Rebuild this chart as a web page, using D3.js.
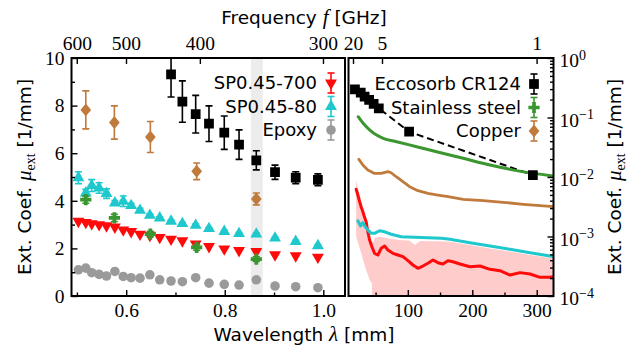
<!DOCTYPE html>
<html>
<head>
<meta charset="utf-8">
<script src="https://cdn.jsdelivr.net/npm/d3@7"></script>
<style>
  body { margin: 0; background: #fff; }
  svg text { font-family: "DejaVu Sans", sans-serif; fill: #000; }
  .tk text { font-family: "Liberation Serif", serif; font-size: 19.5px; }
  .tk line { stroke: #000; stroke-width: 1.4; }
</style>
</head>
<body>
<div id="chart"></div>
<script>
const C_MM_GHZ = 299.792458;

// ---- left panel: lambda [mm] vs mu_ext [1/mm]
const lamL = [0.503, 0.518, 0.530, 0.545, 0.560, 0.577, 0.594, 0.610, 0.628, 0.648, 0.668,
  0.691, 0.714, 0.741, 0.768, 0.799, 0.829, 0.864, 0.902, 0.944, 0.989];
const sp700L = [3.14, 3.09, 3.04, 3.00, 2.95, 2.90, 2.78, 2.71, 2.60, 2.55, 2.46,
  2.39, 2.32, 2.19, 2.08, 1.98, 1.91, 1.87, 1.73, 1.69, 1.63];
const sp80L = [4.97, 4.33, 4.64, 4.54, 4.30, 3.91, 3.98, 3.80, 3.60, 3.39, 3.28,
  3.14, 3.04, 2.97, 2.83, 2.71, 2.62, 2.60, 2.43, 2.29, 2.11];
const sp80Err = [0.25, 0.15, 0.25, 0.22, 0.2, 0.1, 0.22, 0.1, 0.08, 0.06, 0.05,
  0.05, 0.05, 0.05, 0.05, 0.05, 0.05, 0.05, 0.05, 0.05, 0.05];
const epoxyL = [1.10, 1.17, 0.98, 0.91, 0.84, 1.03, 0.82, 0.77, 0.75, 0.89, 0.68,
  0.63, 0.60, 0.77, 0.54, 0.49, 0.46, 0.68, 0.42, 0.39, 0.35];

const eccLamL = [0.691, 0.714, 0.741, 0.768, 0.799, 0.829, 0.864, 0.902, 0.944, 0.989];
const eccL = [9.31, 8.17, 7.64, 7.24, 6.86, 6.36, 5.70, 5.20, 4.97, 4.88];
const eccErrL = [0.95, 0.87, 0.79, 0.75, 0.70, 0.62, 0.40, 0.30, 0.25, 0.25];

const metLamL = [0.518, 0.576, 0.649, 0.743, 0.864];
const cuL = [7.82, 7.29, 6.68, 5.24, 4.08];
const cuErrL = [0.8, 0.7, 0.65, 0.35, 0.25];
const ssL = [4.05, 3.28, 2.60, 2.04, 1.55];
const ssErrL = [0.15, 0.15, 0.12, 0.12, 0.1];

const bandL = [0.853, 0.877];

// ---- right panel: lambda [mm] vs mu_ext (log)
const eccLamR = [18, 27, 33, 40, 47, 55, 102, 294];
const eccR = [0.298, 0.261, 0.224, 0.197, 0.169, 0.143, 0.0577, 0.0108];

const ssLamR = [23, 30.7, 41.1, 51.6, 61.8, 82.6, 113.7, 144.7, 186, 227.5, 268.9, 324.8];
const ssR = [0.103, 0.0799, 0.0616, 0.0508, 0.0447, 0.0392, 0.0323, 0.0266, 0.0206, 0.0159, 0.0128, 0.0104];

const cuLamR = [24.1, 30.3, 38.0, 48.4, 58.7, 69.1, 74.2, 82.0, 92.4, 102.8, 115.7, 131.2,
  146.7, 162.3, 186.0, 217.1, 248.1, 279.2, 310.2, 325.8];
const cuR = [0.0198, 0.0159, 0.0131, 0.0115, 0.0115, 0.0123, 0.0118, 0.0101, 0.00834, 0.00687,
  0.00589, 0.00532, 0.00498, 0.00467, 0.00422, 0.00400, 0.00376, 0.00348, 0.00326, 0.00317];

const sp80LamR = [22.5, 26.7, 30.3, 33.9, 38.0, 43.2, 48.4, 56.2, 64.0, 74.2, 89.8, 110.6,
  131.2, 151.9, 165.4, 196.4, 227.5, 258.5, 289.6, 320.7, 325.3];
const sp80R = [0.00184, 0.00150, 0.00171, 0.00146, 0.00129, 0.00113, 0.00113, 0.00125, 0.00120,
  0.00109, 0.000993, 0.000970, 0.000955, 0.000933, 0.000897, 0.000787, 0.000692, 0.000609,
  0.000535, 0.000470, 0.000461];

const sp700LamR = [19.9, 22.5, 25.2, 27.6, 30.3, 32.9, 35.4, 38.0, 40.7, 44.3, 48.4, 53.6, 58.7,
  64.0, 69.1, 76.9, 84.6, 92.4, 100.2, 107.9, 115.7, 123.4, 131.2, 139.0, 146.7, 154.5, 162.3,
  170.0, 180.9, 196.4, 212.0, 227.5, 243.0, 258.5, 274.1, 289.6, 305.1, 320.7, 325.3];
const sp700R = [0.00621, 0.00498, 0.00385, 0.00317, 0.00261, 0.00210, 0.00177, 0.00120, 0.000873,
  0.000674, 0.000522, 0.000489, 0.000633, 0.000692, 0.000593, 0.000522, 0.000489, 0.000458,
  0.000392, 0.000332, 0.000292, 0.000319, 0.000355, 0.000403, 0.000363, 0.000345, 0.000392,
  0.000377, 0.000345, 0.000310, 0.000319, 0.000281, 0.000266, 0.000225, 0.000247, 0.000234,
  0.000206, 0.000206, 0.000211];

const bandLamR = [19.9, 24.1, 27.6, 28.7, 33.4, 35.4, 38.0, 40.7, 42.7, 44.3, 46.3, 48.9, 56.7,
  72.2, 87.7, 103.3, 111.0, 118.8, 134.3, 149.8, 165.4, 196.4, 227.5, 258.5, 289.6, 325.3];
const bandHiR = [0.00891, 0.00560, 0.0041, 0.00338, 0.00205, 0.0017, 0.00119, 0.00095, 0.00087,
  0.00083, 0.0008, 0.00095, 0.00099, 0.00092, 0.00087, 0.00085, 0.00072, 0.00084, 0.00083,
  0.00083, 0.00082, 0.00072, 0.00063, 0.00056, 0.00049, 0.00043];
const bandLoR = [0.00099, 0.0007, 0.00053, 0.00048, 0.00032, 0.00027, 0.00023, 0.00019, 0.00017,
  0.000165, 1e-5, 1e-5, 1e-5, 1e-5, 1e-5, 1e-5, 1e-5, 1e-5, 1e-5, 1e-5, 1e-5, 1e-5, 1e-5, 1e-5, 1e-5, 1e-5];

// tick labels
const lamTicksL = [0.6, 0.8, 1.0];
const lamMinorL = [0.5, 0.7, 0.9];
const freqTicksL = [600, 500, 400, 300];
const muTicksL = [0, 2, 4, 6, 8, 10];
const muMinorL = [1, 3, 5, 7, 9];
const lamTicksR = [100, 200, 300];
const lamMinorR = [50, 150, 250];
const freqTicksR = [20, 5, 1];

const COL = {
  red: '#ff0a0a', cyan: '#1fc8cc', gray: '#9a9a9a', black: '#000',
  green: '#3a962e', brown: '#c07a3c', band: '#ffcccc'
};

// ---- layout
const W = 634, H = 349;
const yTop = 58, yBot = 296;
const svg = d3.select('#chart').append('svg').attr('width', W).attr('height', H);
svg.append('rect').attr('width', W).attr('height', H).attr('fill', '#fff');

const xL = d3.scaleLinear().domain([0.489, 1.044]).range([71.5, 345]);
const yL = d3.scaleLinear().domain([0, 10]).range([yBot, yTop]);
const xR = d3.scaleLinear().domain([8, 326]).range([348.5, 553.5]);
const yR = d3.scaleLog().domain([1e-4, 1]).range([yBot, yTop]);

const defs = svg.append('defs');
defs.append('clipPath').attr('id', 'clipL').append('rect')
  .attr('x', 71.5).attr('y', yTop).attr('width', 345 - 71.5).attr('height', yBot - yTop);
defs.append('clipPath').attr('id', 'clipR').append('rect')
  .attr('x', 348.5).attr('y', yTop).attr('width', 553.5 - 348.5).attr('height', yBot - yTop);

// markers
const tallDiamond = {
  draw(ctx, size) {
    const r = Math.sqrt(size);
    ctx.moveTo(0, -r * 0.6); ctx.lineTo(r * 0.5, 0); ctx.lineTo(0, r * 0.6); ctx.lineTo(-r * 0.5, 0); ctx.closePath();
  }
};
const MK = {
  down: { type: d3.symbolTriangle, size: 62, rot: 180 },
  up: { type: d3.symbolTriangle, size: 62, rot: 0 },
  circle: { type: d3.symbolCircle, size: 72, rot: 0 },
  square: { type: d3.symbolSquare, size: 95, rot: 0 },
  plus: { type: d3.symbolCross, size: 70, rot: 0 },
  diamond: { type: tallDiamond, size: 115, rot: 0 }
};

function errBar(g, x, y0, y1, color) {
  g.append('line').attr('x1', x).attr('x2', x).attr('y1', y0).attr('y2', y1)
    .attr('stroke', color).attr('stroke-width', 1.6);
  [y0, y1].forEach(yy => g.append('line').attr('x1', x - 3.5).attr('x2', x + 3.5)
    .attr('y1', yy).attr('y2', yy).attr('stroke', color).attr('stroke-width', 1.6));
}

function points(g, xs, ys, errs, xs_, ys_, mk, color) {
  if (errs) xs.forEach((d, i) => errBar(g, xs_(d), ys_(ys[i] - errs[i]), ys_(ys[i] + errs[i]), color));
  g.selectAll(null).data(xs).join('path')
    .attr('d', d3.symbol().type(mk.type).size(mk.size))
    .attr('transform', (d, i) => `translate(${xs_(d)},${ys_(ys[i])}) rotate(${mk.rot})`)
    .attr('fill', color);
}

// ================= left panel
const gL = svg.append('g').attr('clip-path', 'url(#clipL)');
gL.append('rect').attr('x', xL(bandL[0])).attr('y', yTop)
  .attr('width', xL(bandL[1]) - xL(bandL[0])).attr('height', yBot - yTop).attr('fill', '#ececec');

points(gL, lamL, epoxyL, null, xL, yL, MK.circle, COL.gray);
points(gL, lamL, sp700L, null, xL, yL, MK.down, COL.red);
points(gL, lamL, sp80L, sp80Err, xL, yL, MK.up, COL.cyan);
points(gL, metLamL, ssL, ssErrL, xL, yL, MK.plus, COL.green);
points(gL, metLamL, cuL, cuErrL, xL, yL, MK.diamond, COL.brown);
points(gL, eccLamL, eccL, eccErrL, xL, yL, MK.square, COL.black);

// ================= right panel
const gR = svg.append('g').attr('clip-path', 'url(#clipR)');
const band = bandLamR.map((d, i) => [d, bandLoR[i], bandHiR[i]]);
gR.append('path').datum(band)
  .attr('d', d3.area().x(d => xR(d[0])).y0(d => yR(d[1])).y1(d => yR(d[2])))
  .attr('fill', COL.band);

function curve(xs, ys, color, w, smooth) {
  gR.append('path').datum(xs.map((d, i) => [d, ys[i]]))
    .attr('d', d3.line().x(d => xR(d[0])).y(d => yR(d[1])).curve(smooth ? d3.curveMonotoneX : d3.curveLinear))
    .attr('fill', 'none').attr('stroke', color).attr('stroke-width', w)
    .attr('stroke-linejoin', 'round').attr('stroke-linecap', 'round');
}
curve(sp700LamR, sp700R, COL.red, 3, false);
curve(sp80LamR, sp80R, COL.cyan, 3, false);
curve(cuLamR, cuR, COL.brown, 2.8, false);
gR.append('path').datum(eccLamR.map((d, i) => [d, eccR[i]]))
  .attr('d', d3.line().x(d => xR(d[0])).y(d => yR(d[1])))
  .attr('fill', 'none').attr('stroke', '#000').attr('stroke-width', 2).attr('stroke-dasharray', '7,4');
curve(ssLamR, ssR, COL.green, 3, true);
points(gR, eccLamR, eccR, null, xR, yR, MK.square, COL.black);

// ================= axes (ticks inward)
function axis(gen, tr) {
  return svg.append('g').attr('class', 'tk').attr('transform', tr).call(gen)
    .call(g => g.select('.domain').remove());
}
const fmt1 = d3.format('.1f');
axis(d3.axisBottom(xL).tickValues(lamTicksL).tickSize(-6).tickPadding(7).tickFormat(fmt1), `translate(0,${yBot})`);
axis(d3.axisBottom(xL).tickValues(lamMinorL).tickSize(-3.5).tickFormat(''), `translate(0,${yBot})`);
axis(d3.axisLeft(yL).tickValues(muTicksL).tickSize(-6).tickPadding(7).tickFormat(d3.format('d')), `translate(71.5,0)`);
axis(d3.axisLeft(yL).tickValues(muMinorL).tickSize(-3.5).tickFormat(''), `translate(71.5,0)`);
axis(d3.axisTop(xL).tickValues(freqTicksL.map(f => C_MM_GHZ / f)).tickSize(-6).tickPadding(8)
  .tickFormat((d, i) => freqTicksL[i]), `translate(0,${yTop})`);

axis(d3.axisBottom(xR).tickValues(lamTicksR).tickSize(-6).tickPadding(7).tickFormat(d3.format('d')), `translate(0,${yBot})`);
axis(d3.axisBottom(xR).tickValues(lamMinorR).tickSize(-3.5).tickFormat(''), `translate(0,${yBot})`);
axis(d3.axisTop(xR).tickValues(freqTicksR.map(f => C_MM_GHZ / f)).tickSize(-6).tickPadding(8)
  .tickFormat((d, i) => freqTicksR[i]), `translate(0,${yTop})`);
const logMajor = [1e-4, 1e-3, 1e-2, 1e-1, 1];
const logMinor = [];
logMajor.slice(0, 4).forEach(p => d3.range(2, 10).forEach(k => logMinor.push(p * k)));
const ry = axis(d3.axisRight(yR).tickValues(logMajor).tickSize(-6).tickPadding(6).tickFormat(''), `translate(553.5,0)`);
axis(d3.axisRight(yR).tickValues(logMinor).tickSize(-3.5).tickFormat(''), `translate(553.5,0)`);
ry.selectAll('.tick').each(function (d) {
  const t = d3.select(this).select('text').attr('dy', '0.45em');
  const e = Math.round(Math.log10(d));
  t.append('tspan').text('10');
  t.append('tspan').attr('dy', '-0.55em').attr('font-size', 14).text(e < 0 ? '\u2212' + (-e) : e);
});

// frames
[[71.5, 345], [348.5, 553.5]].forEach(([a, b]) => svg.append('rect')
  .attr('x', a).attr('y', yTop).attr('width', b - a).attr('height', yBot - yTop)
  .attr('fill', 'none').attr('stroke', '#000').attr('stroke-width', 2));

// ================= legends
function legend(items, xText, xMk, y0) {
  const g = svg.append('g');
  items.forEach((it, i) => {
    const y = y0 + i * 23.5;
    g.append('text').attr('x', xText).attr('y', y).attr('dy', '0.36em')
      .attr('text-anchor', 'end').attr('font-size', 18).text(it.label);
    errBar(g, xMk, y - 10, y + 10, it.color);
    g.append('path').attr('d', d3.symbol().type(it.mk.type).size(it.mk.size))
      .attr('transform', `translate(${xMk},${y}) rotate(${it.mk.rot})`).attr('fill', it.color);
  });
}
legend([
  { label: 'SP0.45-700', mk: MK.down, color: COL.red },
  { label: 'SP0.45-80', mk: MK.up, color: COL.cyan },
  { label: 'Epoxy', mk: MK.circle, color: COL.gray }
], 317, 331, 83);
legend([
  { label: 'Eccosorb CR124', mk: MK.square, color: COL.black },
  { label: 'Stainless steel', mk: MK.plus, color: COL.green },
  { label: 'Copper', mk: MK.diamond, color: COL.brown }
], 521, 534, 84);

// ================= axis labels
function sansSerif(t, parts) {
  parts.forEach(p => {
    const s = t.append('tspan').text(p.t);
    if (p.it) s.attr('font-family', 'Liberation Serif, serif').attr('font-style', 'italic').attr('font-size', 21);
    if (p.sub) s.attr('font-family', 'Liberation Serif, serif').attr('font-size', 14).attr('dy', p.dy);
    if (p.dy && !p.sub) s.attr('dy', p.dy);
  });
}
sansSerif(svg.append('text').attr('x', 304).attr('y', 17).attr('dy', '0.36em')
  .attr('text-anchor', 'middle').attr('font-size', 18.5),
  [{ t: 'Frequency ' }, { t: 'f', it: true }, { t: ' [GHz]' }]);
sansSerif(svg.append('text').attr('x', 304).attr('y', 334).attr('dy', '0.36em')
  .attr('text-anchor', 'middle').attr('font-size', 18.5),
  [{ t: 'Wavelength ' }, { t: 'λ', it: true }, { t: ' [mm]' }]);
const yLabel = [{ t: 'Ext. Coef. ' }, { t: 'μ', it: true }, { t: 'ext', sub: true, dy: 4 }, { t: ' [1/mm]', dy: -4 }];
[24, 614].forEach(x => sansSerif(svg.append('text')
  .attr('transform', `translate(${x},177) rotate(-90)`).attr('dy', '0.36em')
  .attr('text-anchor', 'middle').attr('font-size', 18.5), yLabel));
</script>
</body>
</html>
